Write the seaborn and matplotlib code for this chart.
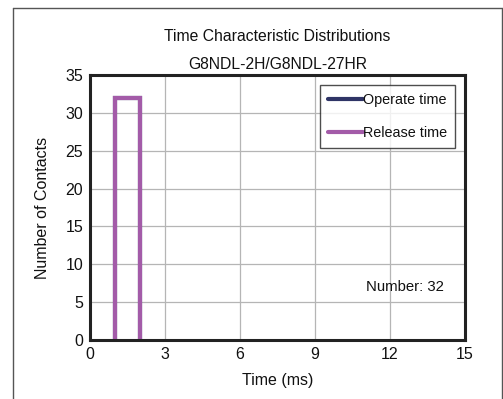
import numpy as np
import matplotlib
matplotlib.use("Agg")
import matplotlib.pyplot as plt
from matplotlib.lines import Line2D
import seaborn as sns

# histogram data
bin_edges = [1, 2]
operate_counts = [32]
release_counts = [32]
total_number = 32

series_names = ["Operate time", "Release time"]
series_colors = ["#2f3466", "#a35ba8"]

sns.set_style("whitegrid")
plt.rcParams["font.family"] = ["Liberation Sans", "DejaVu Sans"]
plt.rcParams["text.color"] = "#111111"
plt.rcParams["axes.labelcolor"] = "#111111"
plt.rcParams["xtick.color"] = "#111111"
plt.rcParams["ytick.color"] = "#111111"

fig = plt.figure(figsize=(5.03, 3.99), dpi=100)
ax = fig.add_axes([90 / 503, 59 / 399, 375 / 503, 265 / 399])

# outer frame around the figure (no bottom edge visible)
fc = "#555555"
fig.add_artist(Line2D([13 / 503, 13 / 503], [0, 1 - 8 / 399], color=fc, lw=1.0))
fig.add_artist(Line2D([13 / 503, 501.5 / 503], [1 - 8 / 399, 1 - 8 / 399], color=fc, lw=1.0))
fig.add_artist(Line2D([501.5 / 503, 501.5 / 503], [0, 1 - 8 / 399], color=fc, lw=1.0))

ax.stairs(operate_counts, bin_edges, baseline=0, color=series_colors[0], lw=3, fill=False)
ax.stairs(release_counts, bin_edges, baseline=0, color=series_colors[1], lw=3, fill=False)

ax.set_xlim(0, 15)
ax.set_ylim(0, 35)
ax.set_xticks(np.arange(0, 16, 3))
ax.set_yticks(np.arange(0, 36, 5))
ax.tick_params(labelsize=11.5, length=0, pad=5)
ax.grid(True, color="#b5b5b5", lw=0.9)
for sp in ax.spines.values():
    sp.set_color("#222222")
    sp.set_linewidth(2.2)
    sp.set_visible(True)

ax.set_xlabel("Time (ms)", fontsize=11.5, labelpad=8)
ax.set_ylabel("Number of Contacts", fontsize=11.5, labelpad=11)
ax.set_title("Time Characteristic Distributions\nG8NDL-2H/G8NDL-27HR",
             fontsize=11.3, linespacing=2.1, pad=4)

handles = [Line2D([], [], color=c, lw=3) for c in series_colors]
leg = ax.legend(handles, series_names, loc="upper right", fontsize=10.4,
                handlelength=2.4, handletextpad=0.0, labelspacing=1.3,
                borderpad=0.55, borderaxespad=0.7, frameon=True, fancybox=False)
leg.get_frame().set_edgecolor("#222222")
leg.get_frame().set_linewidth(1.0)

ax.text(12.6, 7.0, f"Number: {total_number}", fontsize=10.7, ha="center", va="center")

fig.savefig("out.png", dpi=100)
